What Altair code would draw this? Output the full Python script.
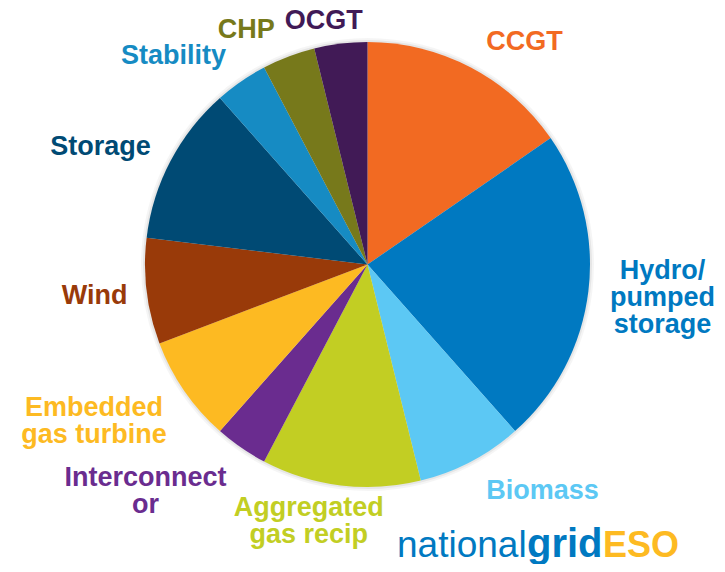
import altair as alt
import pandas as pd

# ---- data ----
categories = ["CCGT", "Hydro", "Biomass", "Aggregated gas recip", "Interconnector",
              "Embedded gas turbine", "Wind", "Storage", "Stability", "CHP", "OCGT"]
values = [4, 6, 2, 3, 1, 2, 2, 3, 1, 1, 1]
labels = ["CCGT", "Hydro/\npumped\nstorage", "Biomass", "Aggregated\ngas recip",
          "Interconnect\nor", "Embedded\ngas turbine", "Wind", "Storage",
          "Stability", "CHP", "OCGT"]
colors = ["#F26A22", "#0079C1", "#5CC8F4", "#C2CE23", "#6A2C8F", "#FDBA22",
          "#993A09", "#004A74", "#168BC3", "#77791B", "#411A56"]

df = pd.DataFrame({"cat": categories, "value": values, "label": labels,
                   "idx": list(range(len(categories)))})

# ---- style ----
CX, CY, R = 359.5, 256.5, 222.5
LABEL_R = 280
FONT = "Liberation Sans"
nudges = {  # per-label (dx, dy) from slice mid-angle point
    "CCGT": (27, 25), "Hydro": (17, -27), "Biomass": (45, -21),
    "Aggregated gas recip": (-25, -34), "Interconnector": (-63, -17),
    "Embedded gas turbine": (-43, -16), "Wind": (5, -2), "Storage": (-19, 13),
    "Stability": (-35, 22), "CHP": (-22, 27), "OCGT": (-10, 34),
}

color_scale = alt.Scale(domain=categories, range=colors)
base = alt.Chart(df).encode(
    theta=alt.Theta("value:Q", stack=True),
    order=alt.Order("idx:Q"),
    x=alt.value(CX), y=alt.value(CY),
)

shadow1 = base.mark_arc(radius=R + 4, color="#000000", opacity=0.04, strokeWidth=0)
shadow2 = base.mark_arc(radius=R + 2, color="#000000", opacity=0.06, strokeWidth=0)
pie = base.mark_arc(radius=R, strokeWidth=0).encode(
    color=alt.Color("cat:N", scale=color_scale, legend=None)
)

layers = [shadow1, shadow2, pie]
for c in categories:
    dx, dy = nudges[c]
    layers.append(
        base.mark_text(radius=LABEL_R, dx=dx, dy=dy, font=FONT, fontWeight="bold",
                       fontSize=27, lineHeight=27, lineBreak="\n",
                       align="center", baseline="middle").encode(
            text=alt.condition(f"datum.cat == '{c}'", "label:N", alt.value("")),
            color=alt.Color("cat:N", scale=color_scale, legend=None),
        )
    )

logo_df = pd.DataFrame({"t": ["x"]})
logo_national = alt.Chart(logo_df).mark_text(
    text="national", font=FONT, fontSize=37, fontWeight="normal", color="#0079C1",
    align="left", baseline="alphabetic").encode(x=alt.value(389), y=alt.value(549))
logo_grid = alt.Chart(logo_df).mark_text(
    text="grid", font=FONT, fontSize=40, fontWeight="bold", color="#0079C1",
    align="left", baseline="alphabetic").encode(x=alt.value(519), y=alt.value(549))
logo_eso = alt.Chart(logo_df).mark_text(
    text="ESO", font=FONT, fontSize=36, fontWeight="bold", color="#FDBA22",
    align="left", baseline="alphabetic").encode(x=alt.value(595), y=alt.value(549))

chart = alt.layer(*layers, logo_national, logo_grid, logo_eso).properties(
    width=709, height=556, padding=0, autosize=alt.AutoSizeParams(type="none"),
    background="#FFFFFF",
).configure_view(stroke=None)

chart.save("out.html", embed_options={"renderer": "svg", "actions": False})
